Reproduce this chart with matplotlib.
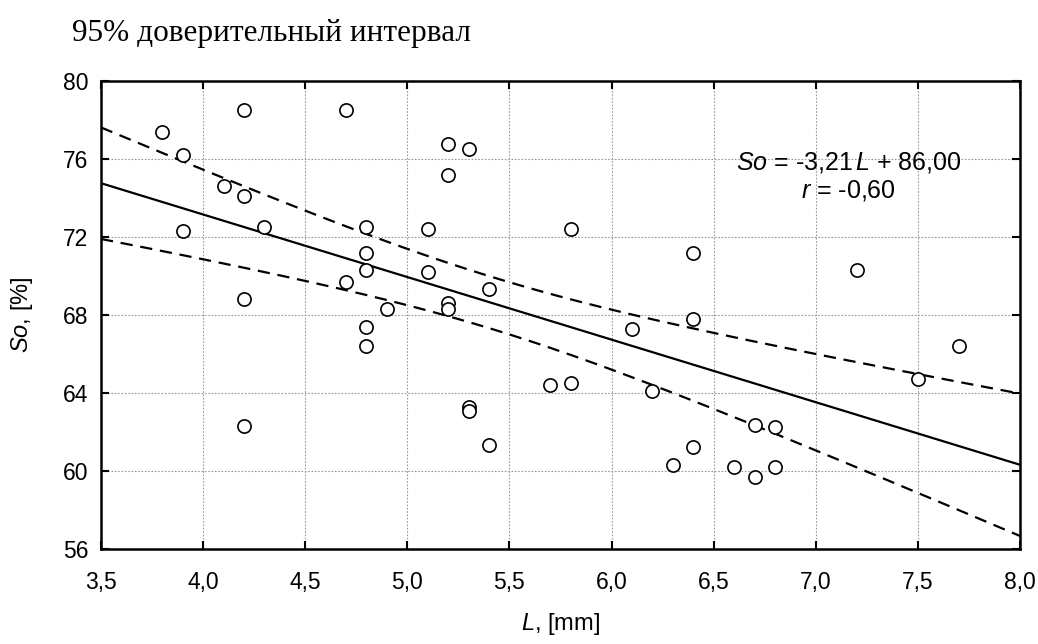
import numpy as np
import matplotlib
matplotlib.use("Agg")
import matplotlib.pyplot as plt
from matplotlib.ticker import FuncFormatter, MultipleLocator

# Данные
L_mm = [3.8, 3.9, 3.9, 4.1, 4.2, 4.2, 4.2, 4.2, 4.3, 4.7, 4.7, 4.8, 4.8, 4.8,
        4.8, 4.8, 4.9, 5.1, 5.1, 5.2, 5.2, 5.2, 5.2, 5.3, 5.3, 5.3, 5.4, 5.4,
        5.7, 5.8, 5.8, 6.1, 6.2, 6.3, 6.4, 6.4, 6.4, 6.6, 6.7, 6.7, 6.8, 6.8,
        7.2, 7.5, 7.7]
So_pct = [77.4, 76.2, 72.3, 74.6, 78.5, 74.1, 68.8, 62.3, 72.5, 78.5, 69.7, 72.5, 71.2, 70.3,
          67.4, 66.4, 68.3, 72.4, 70.2, 76.8, 75.2, 68.6, 68.3, 76.5, 63.3, 63.1, 69.35, 61.35,
          64.4, 72.4, 64.5, 67.3, 64.1, 60.3, 71.2, 67.8, 61.25, 60.2, 62.35, 59.7, 62.25, 60.2,
          70.3, 64.7, 66.4]

slope = -3.21
intercept = 86.00
r_value = -0.60

plt.rcParams["mathtext.fontset"] = "custom"
plt.rcParams["mathtext.it"] = "Liberation Sans:italic"
plt.rcParams["mathtext.rm"] = "Liberation Sans"

x = np.array(L_mm)
y = np.array(So_pct)
n = len(x)

# линия регрессии и 95% доверительный интервал
xs = np.linspace(3.5, 8.0, 200)
ys = slope * xs + intercept
resid = y - (slope * x + intercept)
s = np.sqrt(np.sum(resid ** 2) / (n - 2))
t_crit = 2.017
half = t_crit * s * np.sqrt(1.0 / n + (xs - x.mean()) ** 2 / np.sum((x - x.mean()) ** 2))

fig = plt.figure(figsize=(10.38, 6.44), dpi=100)
ax = fig.add_axes([0.0973, 0.1475, 0.8854, 0.7265])

ax.plot(xs, ys, color="black", lw=1.6)
ax.plot(xs, ys + half, color="black", lw=1.6, ls=(0, (5.5, 3.5)))
ax.plot(xs, ys - half, color="black", lw=1.6, ls=(0, (5.5, 3.5)))
ax.plot(x, y, "o", mfc="white", mec="black", ms=9.5, mew=1.2, zorder=3)

ax.set_xlim(3.5, 8.0)
ax.set_ylim(56, 80)
ax.xaxis.set_major_locator(MultipleLocator(0.5))
ax.yaxis.set_major_locator(MultipleLocator(4))
ax.xaxis.set_major_formatter(FuncFormatter(lambda v, p: f"{v:.1f}".replace(".", ",")))
ax.yaxis.set_major_formatter(FuncFormatter(lambda v, p: f"{v:.0f}"))

ax.grid(True, color="#999999", ls=(0, (1.5, 1.5)), lw=0.8)
ax.tick_params(direction="in", length=6, width=1.5, top=True, right=True, labelsize=16.5)
ax.tick_params(axis="x", pad=16)
ax.tick_params(axis="y", pad=9)
for lab in ax.get_xticklabels() + ax.get_yticklabels():
    lab.set_fontfamily("Liberation Sans")
for sp in ax.spines.values():
    sp.set_linewidth(1.8)

ax.set_xlabel("$\\it{L}$, [mm]", fontsize=17, family="Liberation Sans", labelpad=12)
ax.set_ylabel("$\\it{So}$, [%]", fontsize=17, family="Liberation Sans", labelpad=20)

ax.text(7.16, 75.85, "$\\it{So}$ = -3,21$\\,\\it{L}$ + 86,00", ha="center", va="center",
        fontsize=18, family="Liberation Sans")
ax.text(7.16, 74.4, "$\\it{r}$ = -0,60", ha="center", va="center",
        fontsize=18, family="Liberation Sans")

fig.text(0.069, 0.948, "95% доверительный интервал", fontsize=22.5,
         family="Liberation Serif", ha="left", va="center")

fig.savefig("out.png", dpi=100)
